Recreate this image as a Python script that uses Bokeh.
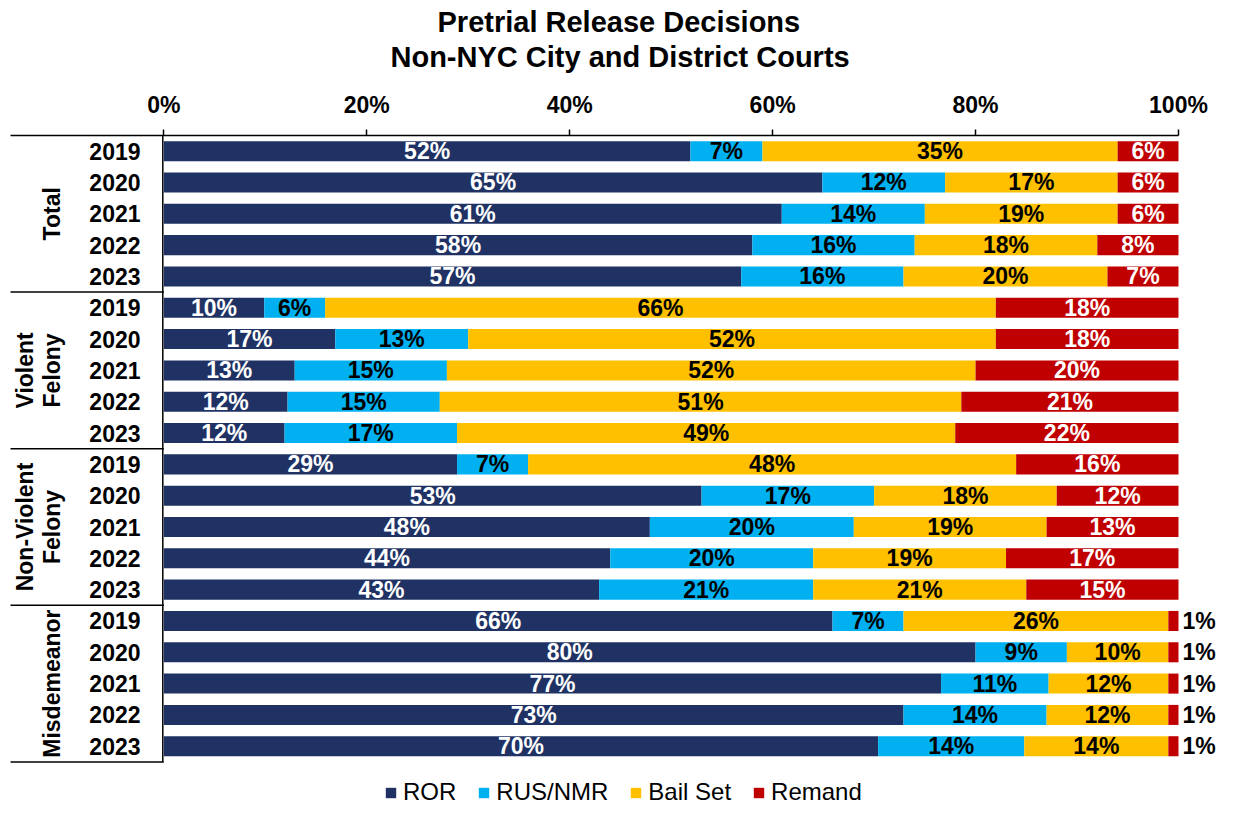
import numpy as np
from bokeh.plotting import figure
from bokeh.models import ColumnDataSource, Range1d, FixedTicker, Legend, LegendItem, Title
from bokeh.core.properties import value
from bokeh.embed import file_html
from bokeh.resources import INLINE

# ---------------- data ----------------
title_lines = ["Pretrial Release Decisions", "Non-NYC City and District Courts"]
groups = ["Total", "Violent\nFelony", "Non-Violent\nFelony", "Misdemeanor"]
years = ["2019", "2020", "2021", "2022", "2023"]
series = ["ROR", "RUS/NMR", "Bail Set", "Remand"]

ror = [51.9, 64.9, 60.9, 58.0, 56.9,
       9.9, 16.9, 12.9, 12.2, 11.9,
       28.9, 53.0, 47.9, 44.0, 42.9,
       65.9, 80.0, 76.6, 72.9, 70.4]
rus_nmr = [7.1, 12.1, 14.1, 16.0, 16.0,
           6.0, 13.1, 15.0, 15.0, 17.0,
           7.0, 17.0, 20.1, 20.0, 21.1,
           7.0, 9.0, 10.6, 14.1, 14.4]
bail_set = [35.0, 17.0, 19.0, 18.0, 20.1,
            66.1, 52.0, 52.1, 51.4, 49.1,
            48.1, 18.0, 19.0, 19.0, 21.0,
            26.1, 10.0, 11.8, 12.0, 14.2]
remand = [6.0, 6.0, 6.0, 8.0, 7.0,
          18.0, 18.0, 20.0, 21.4, 22.0,
          16.0, 12.0, 13.0, 17.0, 15.0,
          1.0, 1.0, 1.0, 1.0, 1.0]

x_ticks = [0, 20, 40, 60, 80, 100]
x_tick_labels = ["0%", "20%", "40%", "60%", "80%", "100%"]

# ---------------- style ----------------
colors = ["#203264", "#00B0F0", "#FFC000", "#C00000"]
label_colors = ["white", "black", "black", "white"]
FONT = "Liberation Sans"
FS = "23px"
BAR_H = 0.64
W, H = 1217, 806
TOP = 135            # frame top (px)
X0_PX, X100_PX = 163.3, 1178.0
ROW_PX = 31.32
K = (X100_PX - X0_PX) / 100.0


def px_to_x(px):
    return (px - X0_PX) / K


n_rows = len(groups) * len(years)
rows = np.arange(n_rows)

p = figure(width=W, height=H,
           x_range=Range1d(px_to_x(0), px_to_x(W)),
           y_range=Range1d(-0.5 + (H - TOP) / ROW_PX, -0.5),
           x_axis_location="above", y_axis_type=None, title_location=None,
           toolbar_location=None, output_backend="svg",
           min_border=0, min_border_top=TOP)
p.xgrid.visible = False
p.outline_line_color = None
p.background_fill_color = "white"

# titles (second line is closest to the plot)
t2 = Title(text=title_lines[1], align="left", offset=390, standoff=31,
           text_font=FONT, text_font_size="29px", text_font_style="bold",
           text_color="black")
t1 = Title(text=title_lines[0], align="left", offset=437, standoff=-29,
           text_font=FONT, text_font_size="29px", text_font_style="bold",
           text_color="black")
p.add_layout(t2, "above")
p.add_layout(t1, "above")

# top axis
ax = p.xaxis[0]
ax.ticker = FixedTicker(ticks=x_ticks, minor_ticks=[])
ax.major_label_overrides = {t: l for t, l in zip(x_ticks, x_tick_labels)}
ax.bounds = (px_to_x(10), 100)
ax.major_label_text_font = FONT
ax.major_label_text_font_size = FS
ax.major_label_text_font_style = "bold"
ax.major_label_text_color = "black"
ax.major_label_standoff = 12
ax.major_tick_out = 6
ax.major_tick_in = 0
ax.minor_tick_line_color = None
ax.axis_line_color = "black"
ax.axis_line_width = 1.5
ax.major_tick_line_color = "black"
ax.major_tick_line_width = 1.5

# left frame lines (category axis + group separators)
n_years = len(years)
sep_y = [g * n_years + n_years - 0.5 for g in range(len(groups))]
p.segment(x0=[px_to_x(10)] * len(sep_y), x1=[0] * len(sep_y), y0=sep_y, y1=sep_y,
          line_color="black", line_width=1.5)
p.segment(x0=[px_to_x(162.3)], x1=[px_to_x(162.3)], y0=[-0.5], y1=[n_rows - 0.5],
          line_color="black", line_width=1.5)

# bars and labels
vals = [ror, rus_nmr, bail_set, remand]
left = np.zeros(n_rows)
renderers = []
for name, v, c, lc in zip(series, vals, colors, label_colors):
    v = np.array(v, dtype=float)
    right = left + v
    src = ColumnDataSource(dict(y=rows, left=left, right=right))
    r = p.hbar(y="y", left="left", right="right", height=BAR_H, source=src,
               fill_color=c, line_color=None)
    renderers.append(r)
    txt = [f"{round(x)}%" for x in v]
    inside = v >= 3
    mid = (left + right) / 2
    if inside.any():
        s_in = ColumnDataSource(dict(x=mid[inside], y=rows[inside],
                                     t=[t for t, k in zip(txt, inside) if k]))
        p.text(x="x", y="y", text="t", source=s_in, text_align="center",
               text_baseline="middle", text_color=lc, text_font=value(FONT),
               text_font_size=FS, text_font_style="bold")
    if (~inside).any():
        s_out = ColumnDataSource(dict(x=right[~inside], y=rows[~inside],
                                      t=[t for t, k in zip(txt, inside) if not k]))
        p.text(x="x", y="y", text="t", source=s_out, text_align="left",
               text_baseline="middle", text_color="black", x_offset=4,
               text_font=value(FONT), text_font_size=FS, text_font_style="bold")
    left = right

# year labels
p.text(x=[px_to_x(140)] * n_rows, y=rows, text=years * len(groups), text_align="right",
       text_baseline="middle", text_color="black", text_font=value(FONT),
       text_font_size=FS, text_font_style="bold")

# group labels (rotated, one glyph per line)
gx, gy, gt = [], [], []
for g, name in enumerate(groups):
    lines = name.split("\n")
    center = g * n_years + (n_years - 1) / 2
    for j, ln in enumerate(lines):
        gx.append(px_to_x(51 - (len(lines) - 1 - j) * 27))
        gy.append(center)
        gt.append(ln)
p.text(x=gx, y=gy, text=gt, angle=np.pi / 2, text_align="center",
       text_baseline="middle", text_color="black", text_font=value(FONT),
       text_font_size=FS, text_font_style="bold")

# legend
legend = Legend(items=[LegendItem(label=s, renderers=[r]) for s, r in zip(series, renderers)],
                orientation="horizontal", location=(384, 0),
                glyph_width=13, glyph_height=13, label_standoff=6, spacing=21,
                padding=0, margin=0, border_line_color=None, background_fill_alpha=0,
                label_text_font=FONT, label_text_font_size="24px", label_text_color="black")
p.add_layout(legend)

open("out.html", "w").write(file_html(p, INLINE))
